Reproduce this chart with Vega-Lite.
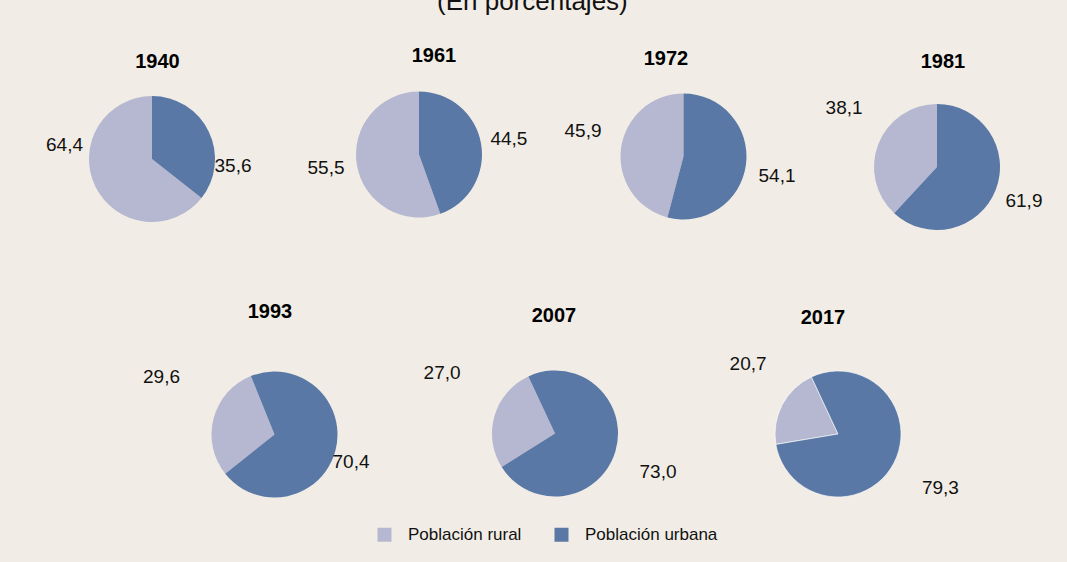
{
  "$schema": "https://vega.github.io/schema/vega-lite/v6.json",
  "background": "#f1ede6",
  "padding": {"left": 42, "top": -11, "right": 0, "bottom": 40},
  "center": true,
  "spacing": 46.5,
  "title": {"text": "(En porcentajes)", "fontSize": 26, "fontWeight": "normal", "color": "#111111", "anchor": "start", "frame": "group", "baseline": "alphabetic", "offset": 10, "dx": 395},
  "data": {"values": [
    {"year": "1940", "zona": "Población rural", "value": 64.4},
    {"year": "1940", "zona": "Población urbana", "value": 35.6},
    {"year": "1961", "zona": "Población rural", "value": 55.5},
    {"year": "1961", "zona": "Población urbana", "value": 44.5},
    {"year": "1972", "zona": "Población rural", "value": 45.9},
    {"year": "1972", "zona": "Población urbana", "value": 54.1},
    {"year": "1981", "zona": "Población rural", "value": 38.1},
    {"year": "1981", "zona": "Población urbana", "value": 61.9},
    {"year": "1993", "zona": "Población rural", "value": 29.6},
    {"year": "1993", "zona": "Población urbana", "value": 70.4},
    {"year": "2007", "zona": "Población rural", "value": 27.0},
    {"year": "2007", "zona": "Población urbana", "value": 73.0},
    {"year": "2017", "zona": "Población rural", "value": 20.7},
    {"year": "2017", "zona": "Población urbana", "value": 79.3}
  ]},
  "vconcat": [
    {"bounds": "flush", "spacing": 10, "hconcat": [
      {"width": 220, "height": 160, "title": {"text": "1940", "offset": 7.5, "dx": 5.5},
       "transform": [{"filter": {"field": "year", "equal": "1940"}}],
       "layer": [
        {"mark": {"type": "arc", "outerRadius": 63}, "encoding": {"theta": {"field": "value", "type": "quantitative", "stack": true}, "order": {"field": "zona", "type": "ordinal", "sort": "descending"}, "color": {"field": "zona", "type": "nominal", "scale": {"domain": ["Población rural", "Población urbana"], "range": ["#b6b7d0", "#5a78a5"]}, "legend": {"title": null, "orient": "none", "direction": "horizontal", "legendX": 334, "legendY": 447, "symbolType": "square", "symbolSize": 196, "symbolStrokeWidth": 0, "labelFontSize": 17, "labelOffset": 15, "columnPadding": 31, "labelColor": "#111111", "padding": 0}}}},
        {"mark": {"type": "text", "radius": 88.5, "thetaOffset": 0.606, "fontSize": 19}, "encoding": {"theta": {"field": "value", "type": "quantitative", "stack": true}, "order": {"field": "zona", "type": "ordinal", "sort": "descending"}, "text": {"field": "value", "type": "quantitative", "format": ".1f"}, "opacity": {"condition": {"test": "datum.zona == 'Población rural'", "value": 1}, "value": 0}}},
        {"mark": {"type": "text", "radius": 81.3, "thetaOffset": 0.538, "fontSize": 19}, "encoding": {"theta": {"field": "value", "type": "quantitative", "stack": true}, "order": {"field": "zona", "type": "ordinal", "sort": "descending"}, "text": {"field": "value", "type": "quantitative", "format": ".1f"}, "opacity": {"condition": {"test": "datum.zona == 'Población urbana'", "value": 1}, "value": 0}}}
       ]},
      {"width": 294, "height": 151, "title": {"text": "1961", "offset": 13, "dx": 15},
       "transform": [{"filter": {"field": "year", "equal": "1961"}}],
       "layer": [
        {"mark": {"type": "arc", "outerRadius": 63}, "encoding": {"theta": {"field": "value", "type": "quantitative", "stack": true}, "order": {"field": "zona", "type": "ordinal", "sort": "descending"}, "color": {"field": "zona", "type": "nominal"}}},
        {"mark": {"type": "text", "radius": 94, "thetaOffset": 0.028, "fontSize": 19}, "encoding": {"theta": {"field": "value", "type": "quantitative", "stack": true}, "order": {"field": "zona", "type": "ordinal", "sort": "descending"}, "text": {"field": "value", "type": "quantitative", "format": ".1f"}, "opacity": {"condition": {"test": "datum.zona == 'Población rural'", "value": 1}, "value": 0}}},
        {"mark": {"type": "text", "radius": 91.3, "thetaOffset": 0.0, "fontSize": 19}, "encoding": {"theta": {"field": "value", "type": "quantitative", "stack": true}, "order": {"field": "zona", "type": "ordinal", "sort": "descending"}, "text": {"field": "value", "type": "quantitative", "format": ".1f"}, "opacity": {"condition": {"test": "datum.zona == 'Población urbana'", "value": 1}, "value": 0}}}
       ]},
      {"width": 215, "height": 155, "title": {"text": "1972", "offset": 10, "dx": -17.5},
       "transform": [{"filter": {"field": "year", "equal": "1972"}}],
       "layer": [
        {"mark": {"type": "arc", "outerRadius": 63}, "encoding": {"theta": {"field": "value", "type": "quantitative", "stack": true}, "order": {"field": "zona", "type": "ordinal", "sort": "descending"}, "color": {"field": "zona", "type": "nominal"}}},
        {"mark": {"type": "text", "radius": 103.8, "thetaOffset": 0.124, "fontSize": 19}, "encoding": {"theta": {"field": "value", "type": "quantitative", "stack": true}, "order": {"field": "zona", "type": "ordinal", "sort": "descending"}, "text": {"field": "value", "type": "quantitative", "format": ".1f"}, "opacity": {"condition": {"test": "datum.zona == 'Población rural'", "value": 1}, "value": 0}}},
        {"mark": {"type": "text", "radius": 95.4, "thetaOffset": 0.072, "fontSize": 19}, "encoding": {"theta": {"field": "value", "type": "quantitative", "stack": true}, "order": {"field": "zona", "type": "ordinal", "sort": "descending"}, "text": {"field": "value", "type": "quantitative", "format": ".1f"}, "opacity": {"condition": {"test": "datum.zona == 'Población urbana'", "value": 1}, "value": 0}}}
       ]},
      {"width": 272, "height": 176, "title": {"text": "1981", "offset": 7, "dx": 6},
       "transform": [{"filter": {"field": "year", "equal": "1981"}}],
       "layer": [
        {"mark": {"type": "arc", "outerRadius": 63}, "encoding": {"theta": {"field": "value", "type": "quantitative", "stack": true}, "order": {"field": "zona", "type": "ordinal", "sort": "descending"}, "color": {"field": "zona", "type": "nominal"}}},
        {"mark": {"type": "text", "radius": 110.1, "thetaOffset": 0.192, "fontSize": 19}, "encoding": {"theta": {"field": "value", "type": "quantitative", "stack": true}, "order": {"field": "zona", "type": "ordinal", "sort": "descending"}, "text": {"field": "value", "type": "quantitative", "format": ".1f"}, "opacity": {"condition": {"test": "datum.zona == 'Población rural'", "value": 1}, "value": 0}}},
        {"mark": {"type": "text", "radius": 93.4, "thetaOffset": 0.0, "fontSize": 19}, "encoding": {"theta": {"field": "value", "type": "quantitative", "stack": true}, "order": {"field": "zona", "type": "ordinal", "sort": "descending"}, "text": {"field": "value", "type": "quantitative", "format": ".1f"}, "opacity": {"condition": {"test": "datum.zona == 'Población urbana'", "value": 1}, "value": 0}}}
       ]}
    ]},
    {"bounds": "flush", "spacing": 20, "hconcat": [
      {"width": 260, "height": 162, "title": {"text": "1993", "offset": 31.5, "dx": -4.5},
       "transform": [{"filter": {"field": "year", "equal": "1993"}}],
       "layer": [
        {"mark": {"type": "arc", "outerRadius": 63, "thetaOffset": -0.384, "theta2Offset": -0.384}, "encoding": {"theta": {"field": "value", "type": "quantitative", "stack": true}, "order": {"field": "zona", "type": "ordinal", "sort": "descending"}, "color": {"field": "zona", "type": "nominal"}}},
        {"mark": {"type": "text", "radius": 126.6, "thetaOffset": -0.173, "fontSize": 19}, "encoding": {"theta": {"field": "value", "type": "quantitative", "stack": true}, "order": {"field": "zona", "type": "ordinal", "sort": "descending"}, "text": {"field": "value", "type": "quantitative", "format": ".1f"}, "opacity": {"condition": {"test": "datum.zona == 'Población rural'", "value": 1}, "value": 0}}},
        {"mark": {"type": "text", "radius": 81.3, "thetaOffset": -0.295, "fontSize": 19}, "encoding": {"theta": {"field": "value", "type": "quantitative", "stack": true}, "order": {"field": "zona", "type": "ordinal", "sort": "descending"}, "text": {"field": "value", "type": "quantitative", "format": ".1f"}, "opacity": {"condition": {"test": "datum.zona == 'Población urbana'", "value": 1}, "value": 0}}}
       ]},
      {"width": 261, "height": 160, "title": {"text": "2007", "offset": 28, "dx": -1},
       "transform": [{"filter": {"field": "year", "equal": "2007"}}],
       "layer": [
        {"mark": {"type": "arc", "outerRadius": 63, "thetaOffset": -0.436, "theta2Offset": -0.436}, "encoding": {"theta": {"field": "value", "type": "quantitative", "stack": true}, "order": {"field": "zona", "type": "ordinal", "sort": "descending"}, "color": {"field": "zona", "type": "nominal"}}},
        {"mark": {"type": "text", "radius": 127.9, "thetaOffset": -0.234, "fontSize": 19}, "encoding": {"theta": {"field": "value", "type": "quantitative", "stack": true}, "order": {"field": "zona", "type": "ordinal", "sort": "descending"}, "text": {"field": "value", "type": "quantitative", "format": ".1f"}, "opacity": {"condition": {"test": "datum.zona == 'Población rural'", "value": 1}, "value": 0}}},
        {"mark": {"type": "text", "radius": 110.1, "thetaOffset": -0.361, "fontSize": 19}, "encoding": {"theta": {"field": "value", "type": "quantitative", "stack": true}, "order": {"field": "zona", "type": "ordinal", "sort": "descending"}, "text": {"field": "value", "type": "quantitative", "format": ".1f"}, "opacity": {"condition": {"test": "datum.zona == 'Población urbana'", "value": 1}, "value": 0}}}
       ]},
      {"width": 265, "height": 161, "title": {"text": "2017", "offset": 25.5, "dx": -15},
       "transform": [{"filter": {"field": "year", "equal": "2017"}}],
       "layer": [
        {"mark": {"type": "arc", "outerRadius": 63, "thetaOffset": -0.436, "theta2Offset": -0.436, "stroke": "#ffffff", "strokeWidth": 0.6}, "encoding": {"theta": {"field": "value", "type": "quantitative", "stack": true}, "order": {"field": "zona", "type": "ordinal", "sort": "descending"}, "color": {"field": "zona", "type": "nominal"}}},
        {"mark": {"type": "text", "radius": 113.7, "thetaOffset": -0.262, "fontSize": 19}, "encoding": {"theta": {"field": "value", "type": "quantitative", "stack": true}, "order": {"field": "zona", "type": "ordinal", "sort": "descending"}, "text": {"field": "value", "type": "quantitative", "format": ".1f"}, "opacity": {"condition": {"test": "datum.zona == 'Población rural'", "value": 1}, "value": 0}}},
        {"mark": {"type": "text", "radius": 115.6, "thetaOffset": -0.438, "fontSize": 19}, "encoding": {"theta": {"field": "value", "type": "quantitative", "stack": true}, "order": {"field": "zona", "type": "ordinal", "sort": "descending"}, "text": {"field": "value", "type": "quantitative", "format": ".1f"}, "opacity": {"condition": {"test": "datum.zona == 'Población urbana'", "value": 1}, "value": 0}}}
       ]}
    ]}
  ],
  "config": {
    "font": "Liberation Sans",
    "locale": {"number": {"decimal": ",", "thousands": ".", "grouping": [3], "currency": ["", " €"]}},
    "view": {"stroke": null},
    "title": {"fontSize": 20, "fontWeight": "bold", "color": "#000000", "anchor": "middle", "baseline": "alphabetic"},
    "text": {"color": "#111111"}
  }
}
